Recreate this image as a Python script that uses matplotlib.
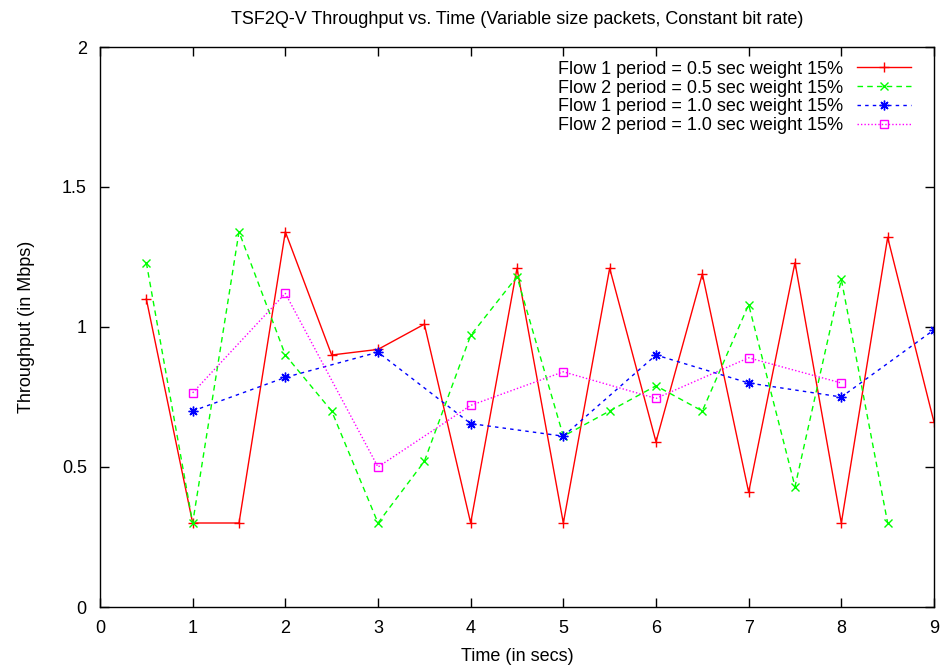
import matplotlib
matplotlib.use("Agg")
import matplotlib.pyplot as plt

plt.rcParams['font.family'] = ['Liberation Sans', 'DejaVu Sans']

x_half = [0.5, 1.0, 1.5, 2.0, 2.5, 3.0, 3.5, 4.0, 4.5, 5.0, 5.5, 6.0, 6.5, 7.0, 7.5, 8.0, 8.5, 9.0]
flow1_half = [1.10, 0.30, 0.30, 1.34, 0.90, 0.92, 1.01, 0.30, 1.21, 0.30, 1.21, 0.59, 1.19, 0.41, 1.23, 0.30, 1.32, 0.66]
x_half2 = [0.5, 1.0, 1.5, 2.0, 2.5, 3.0, 3.5, 4.0, 4.5, 5.0, 5.5, 6.0, 6.5, 7.0, 7.5, 8.0, 8.5]
flow2_half = [1.23, 0.30, 1.34, 0.90, 0.70, 0.30, 0.52, 0.97, 1.18, 0.61, 0.70, 0.79, 0.70, 1.08, 0.43, 1.17, 0.30]
x_one = [1, 2, 3, 4, 5, 6, 7, 8, 9]
flow1_one = [0.70, 0.82, 0.91, 0.655, 0.61, 0.90, 0.80, 0.75, 0.99]
x_one2 = [1, 2, 3, 4, 5, 6, 7, 8]
flow2_one = [0.765, 1.12, 0.50, 0.72, 0.84, 0.745, 0.89, 0.80]

labels = ["Flow 1 period = 0.5 sec weight 15%",
          "Flow 2 period = 0.5 sec weight 15%",
          "Flow 1 period = 1.0 sec weight 15%",
          "Flow 2 period = 1.0 sec weight 15%"]

fs = 13
fig = plt.figure(figsize=(9.44, 6.71), dpi=100)
ax = fig.add_axes([100/944, 1 - 607/671, 834/944, 560/671])

ms = 7
ax.plot(x_half, flow1_half, color='#ff0000', lw=1, ls='-', marker='+', ms=ms, mew=1, label=labels[0])
ax.plot(x_half2, flow2_half, color='#00ff00', lw=1, ls=(0, (4, 3)), marker='x', ms=ms*0.9, mew=1, label=labels[1])
ax.plot(x_one, flow1_one, color='#0000ff', lw=1, ls=(0, (2.5, 3)), marker=(8, 2, 0), ms=ms, mew=1, label=labels[2])
ax.plot(x_one2, flow2_one, color='#ff00ff', lw=1, ls=(0, (1, 1.5)), marker='s', ms=ms*0.85, mew=1,
        mfc='none', label=labels[3])

ax.set_xlim(0, 9)
ax.set_ylim(0, 2)
ax.set_xticks(range(0, 10))
ax.set_yticks([0, 0.5, 1, 1.5, 2])
ax.set_yticklabels(["0", "0.5", "1", "1.5", "2"])
ax.tick_params(direction='in', top=True, right=True, length=6.5, width=1, labelsize=fs)
ax.tick_params(axis='x', pad=9.5)
ax.tick_params(axis='y', pad=9.5)
for s in ax.spines.values():
    s.set_linewidth(1)

ax.set_title("TSF2Q-V Throughput vs. Time (Variable size packets, Constant bit rate)", fontsize=fs, pad=16.5)
ax.set_xlabel("Time (in secs)", fontsize=fs, labelpad=8)
ax.set_ylabel("Throughput (in Mbps)", fontsize=fs, labelpad=19)

leg = ax.legend(loc='upper right', bbox_to_anchor=(0.988, 0.998), frameon=False, markerfirst=False,
                fontsize=fs, handlelength=3.0, labelspacing=0.1, handletextpad=0.8, numpoints=1,
                borderaxespad=0.3)

fig.savefig("out.png", dpi=100)
